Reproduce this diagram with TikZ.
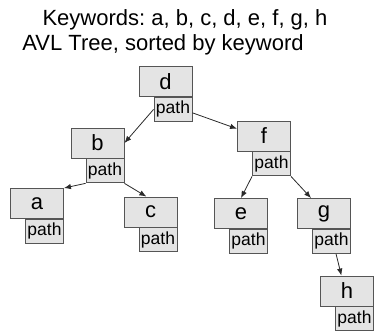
\documentclass[tikz,border=0pt]{standalone}
\usepackage{fontspec}
\setmainfont{Liberation Sans}
\usepackage{tikz}
\usetikzlibrary{arrows.meta, positioning}
\frenchspacing
\definecolor{boxfill}{HTML}{E4E4E4}
\definecolor{boxline}{HTML}{555555}
\definecolor{arrowgray}{HTML}{2A2A2A}
\tikzset{
  keybox/.style={
    rectangle, draw=boxline, line width=0.9pt, fill=boxfill,
    minimum width=53pt, minimum height=30pt, inner sep=0pt,
    font=\fontsize{22}{24}\selectfont
  },
  pathbox/.style={
    rectangle, draw=boxline, line width=0.9pt, fill=boxfill,
    minimum width=38pt, minimum height=24pt, inner sep=0pt,
    font=\fontsize{17.5}{19}\selectfont
  },
  title/.style={anchor=base, inner sep=0pt, font=\fontsize{22}{24}\selectfont},
  treearrow/.style={-{Latex[length=7pt, width=5.5pt]}, line width=0.8pt, color=arrowgray},
}
\begin{document}
\begin{tikzpicture}[x=1pt, y=-1pt]
  \useasboundingbox (0,0) rectangle (374,330);

  \node[title] (kw) at (185,25) {Keywords: a, b, c, d, e, f, g, h};
  \node[title] (avl) at (163,50) {AVL Tree, sorted by keyword};

  % keyword boxes
  \node[keybox] (d) at (165.5,81.5) {d};
  \node[keybox] (b) at (97.5,143) {b};
  \node[keybox] (a) at (37,203.5) {a};
  \node[keybox] (c) at (150.5,212) {c};
  \node[keybox] (f) at (264,136) {f};
  \node[keybox] (e) at (241,213.5) {e};
  \node[keybox] (g) at (324,213.5) {g};
  \node[keybox] (h) at (347,291) {h};

  % path boxes
  \node[pathbox, below left=0pt and 0pt of d.south east] (dp) {path};
  \node[pathbox, below left=0pt and 0pt of b.south east] (bp) {path};
  \node[pathbox, below left=0pt and 0pt of a.south east] (ap) {path};
  \node[pathbox, below left=0pt and 0pt of c.south east] (cp) {path};
  \node[pathbox, below left=0pt and 0pt of f.south east] (fp) {path};
  \node[pathbox, below left=0pt and 0pt of e.south east] (ep) {path};
  \node[pathbox, below left=0pt and 0pt of g.south east] (gp) {path};
  \node[pathbox, below left=0pt and 0pt of h.south east] (hp) {path};

  \draw[treearrow] (dp.west) -- (b.east);
  \draw[treearrow] (dp.-10) -- (f.165);
  \draw[treearrow] (bp.south west) -- (a.north east);
  \draw[treearrow] (bp.south east) -- (c.105);
  \draw[treearrow] (fp.south west) -- (e.north);
  \draw[treearrow] (fp.south east) -- (g.130);
  \draw[treearrow] (gp.-70) -- (h.110);

\end{tikzpicture}
\end{document}
